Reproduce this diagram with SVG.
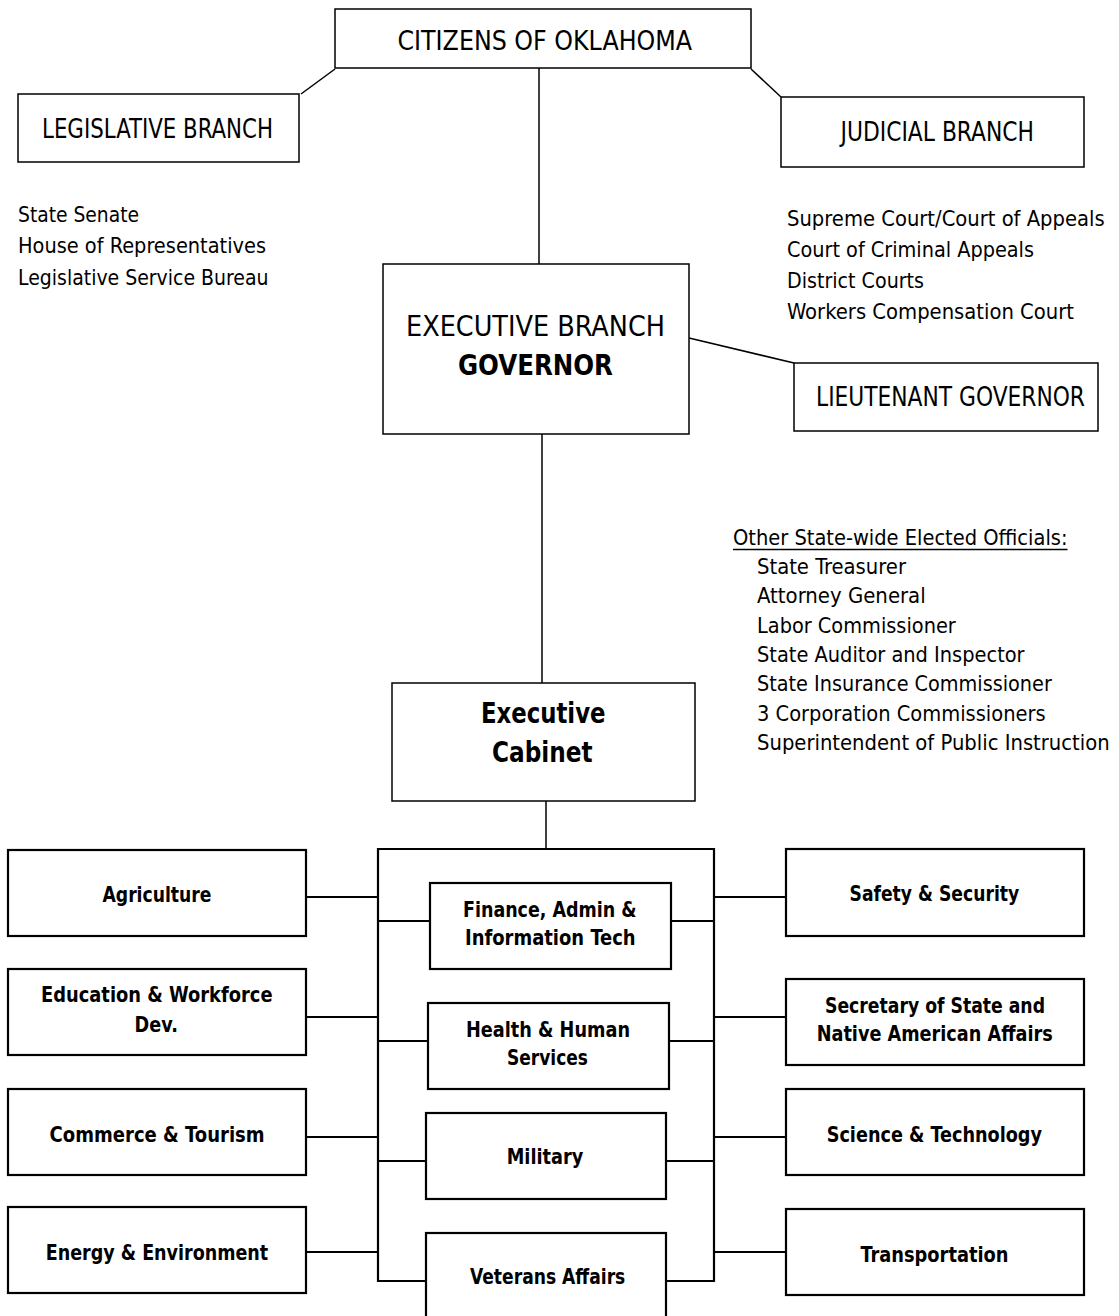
<svg xmlns="http://www.w3.org/2000/svg" width="1119" height="1316" viewBox="0 0 1119 1316">
<style>
text{font-family:"Liberation Sans Narrow","DejaVu Sans Condensed","Liberation Sans",sans-serif;fill:#000}
.top{font-size:26px}
.big{font-size:28px}
.bb{font-size:28px;font-weight:bold}
.lst{font-size:22px}
.bx{font-size:21px;font-weight:bold}
.n1{fill:#fff;stroke:#000;stroke-width:1.5}
.n2{fill:#fff;stroke:#000;stroke-width:2.2}
.c{stroke:#000;stroke-width:1.5;fill:none}
.c2{stroke:#000;stroke-width:2.2;fill:none}
</style>
<rect width="1119" height="1316" fill="#fff"/>
<g id="connectors">
<line class="c" x1="335" y1="69" x2="301" y2="94"/>
<line class="c" x1="751" y1="69" x2="781" y2="97"/>
<line class="c" x1="539" y1="68" x2="539" y2="264"/>
<line class="c" x1="689" y1="338" x2="794" y2="363"/>
<line class="c" x1="542" y1="434" x2="542" y2="683"/>
<line class="c" x1="546" y1="801" x2="546" y2="849"/>
<path class="c2" d="M426,1281 H378 V849 H714 V1281 H666"/>
<path class="c2" d="M306,897 H378 M306,1017 H378 M306,1137 H378 M306,1252 H378"/>
<path class="c2" d="M378,921 H430 M378,1041 H428 M378,1161 H426"/>
<path class="c2" d="M671,921 H714 M669,1041 H714 M666,1161 H714"/>
<path class="c2" d="M714,897 H786 M714,1017 H786 M714,1137 H786 M714,1252 H786"/>
</g>
<g id="citizens"><rect class="n1" x="335" y="9" width="416" height="59"/><text class="top" x="397.5" y="50" textLength="294.5" lengthAdjust="spacingAndGlyphs">CITIZENS OF OKLAHOMA</text></g>
<g id="legislative"><rect class="n1" x="18" y="94" width="281" height="68"/><text class="top" x="42" y="138" textLength="231" lengthAdjust="spacingAndGlyphs">LEGISLATIVE BRANCH</text></g>
<g id="judicial"><rect class="n1" x="781" y="97" width="303" height="70"/><text class="top" x="840.5" y="141" textLength="193.5" lengthAdjust="spacingAndGlyphs">JUDICIAL BRANCH</text></g>
<g id="executive"><rect class="n1" x="383" y="264" width="306" height="170"/><text class="big" x="406" y="336" textLength="259" lengthAdjust="spacingAndGlyphs">EXECUTIVE BRANCH</text><text class="bb" x="458" y="375" textLength="155" lengthAdjust="spacingAndGlyphs">GOVERNOR</text></g>
<g id="lieutenant"><rect class="n1" x="794" y="363" width="304" height="68"/><text class="top" x="816" y="406" textLength="269" lengthAdjust="spacingAndGlyphs">LIEUTENANT GOVERNOR</text></g>
<g id="cabinet"><rect class="n1" x="392" y="683" width="303" height="118"/><text class="bb" x="481" y="723" textLength="124.5" lengthAdjust="spacingAndGlyphs">Executive</text><text class="bb" x="492" y="762" textLength="100.5" lengthAdjust="spacingAndGlyphs">Cabinet</text></g>
<g id="legislative-list">
<text class="lst" x="18" y="222" textLength="121" lengthAdjust="spacingAndGlyphs">State Senate</text>
<text class="lst" x="18" y="253" textLength="248" lengthAdjust="spacingAndGlyphs">House of Representatives</text>
<text class="lst" x="18" y="285" textLength="250.5" lengthAdjust="spacingAndGlyphs">Legislative Service Bureau</text>
</g>
<g id="judicial-list">
<text class="lst" x="787" y="226" textLength="317.7" lengthAdjust="spacingAndGlyphs">Supreme Court/Court of Appeals</text>
<text class="lst" x="787" y="257" textLength="247" lengthAdjust="spacingAndGlyphs">Court of Criminal Appeals</text>
<text class="lst" x="787" y="288" textLength="137" lengthAdjust="spacingAndGlyphs">District Courts</text>
<text class="lst" x="787" y="319" textLength="287" lengthAdjust="spacingAndGlyphs">Workers Compensation Court</text>
</g>
<g id="officials">
<text class="lst" x="733" y="545" textLength="334.5" lengthAdjust="spacingAndGlyphs">Other State-wide Elected Officials:</text>
<line x1="733" y1="549.5" x2="1067.5" y2="549.5" stroke="#000" stroke-width="1.5"/>
<text class="lst" x="757" y="574" textLength="149" lengthAdjust="spacingAndGlyphs">State Treasurer</text>
<text class="lst" x="757" y="603" textLength="168.7" lengthAdjust="spacingAndGlyphs">Attorney General</text>
<text class="lst" x="757" y="633" textLength="198.8" lengthAdjust="spacingAndGlyphs">Labor Commissioner</text>
<text class="lst" x="757" y="662" textLength="267.6" lengthAdjust="spacingAndGlyphs">State Auditor and Inspector</text>
<text class="lst" x="757" y="691" textLength="294.8" lengthAdjust="spacingAndGlyphs">State Insurance Commissioner</text>
<text class="lst" x="757" y="721" textLength="288.6" lengthAdjust="spacingAndGlyphs">3 Corporation Commissioners</text>
<text class="lst" x="757" y="750" textLength="352.6" lengthAdjust="spacingAndGlyphs">Superintendent of Public Instruction</text>
</g>
<g id="agriculture"><rect class="n2" x="8" y="850" width="298" height="86"/><text class="bx" x="102.5" y="902" textLength="109" lengthAdjust="spacingAndGlyphs">Agriculture</text></g>
<g id="education"><rect class="n2" x="8" y="969" width="298" height="86"/><text class="bx" x="41" y="1002" textLength="231.5" lengthAdjust="spacingAndGlyphs">Education &amp; Workforce</text><text class="bx" x="134.6" y="1032" textLength="43.3" lengthAdjust="spacingAndGlyphs">Dev.</text></g>
<g id="commerce"><rect class="n2" x="8" y="1089" width="298" height="86"/><text class="bx" x="49.6" y="1142" textLength="215" lengthAdjust="spacingAndGlyphs">Commerce &amp; Tourism</text></g>
<g id="energy"><rect class="n2" x="8" y="1207" width="298" height="86"/><text class="bx" x="45.7" y="1260" textLength="222.5" lengthAdjust="spacingAndGlyphs">Energy &amp; Environment</text></g>
<g id="finance"><rect class="n2" x="430" y="883" width="241" height="86"/><text class="bx" x="463" y="917" textLength="173.6" lengthAdjust="spacingAndGlyphs">Finance, Admin &amp;</text><text class="bx" x="465" y="945" textLength="170.6" lengthAdjust="spacingAndGlyphs">Information Tech</text></g>
<g id="health"><rect class="n2" x="428" y="1003" width="241" height="86"/><text class="bx" x="466" y="1037" textLength="164" lengthAdjust="spacingAndGlyphs">Health &amp; Human</text><text class="bx" x="507" y="1065" textLength="81" lengthAdjust="spacingAndGlyphs">Services</text></g>
<g id="military"><rect class="n2" x="426" y="1113" width="240" height="86"/><text class="bx" x="506.7" y="1164" textLength="76.6" lengthAdjust="spacingAndGlyphs">Military</text></g>
<g id="veterans"><rect class="n2" x="426" y="1233" width="240" height="95"/><text class="bx" x="470" y="1284" textLength="155.3" lengthAdjust="spacingAndGlyphs">Veterans Affairs</text></g>
<g id="safety"><rect class="n2" x="786" y="849" width="298" height="87"/><text class="bx" x="849.5" y="901" textLength="169.7" lengthAdjust="spacingAndGlyphs">Safety &amp; Security</text></g>
<g id="secretary"><rect class="n2" x="786" y="979" width="298" height="86"/><text class="bx" x="825" y="1013" textLength="220" lengthAdjust="spacingAndGlyphs">Secretary of State and</text><text class="bx" x="816.7" y="1041" textLength="236" lengthAdjust="spacingAndGlyphs">Native American Affairs</text></g>
<g id="science"><rect class="n2" x="786" y="1089" width="298" height="86"/><text class="bx" x="826.7" y="1142" textLength="215.3" lengthAdjust="spacingAndGlyphs">Science &amp; Technology</text></g>
<g id="transportation"><rect class="n2" x="786" y="1209" width="298" height="86"/><text class="bx" x="860.5" y="1262" textLength="148" lengthAdjust="spacingAndGlyphs">Transportation</text></g>
</svg>
